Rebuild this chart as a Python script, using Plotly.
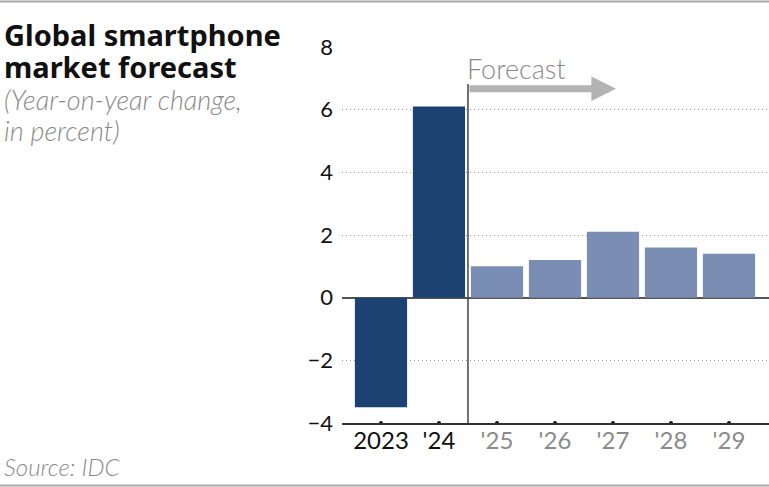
import plotly.graph_objects as go

# data
years = ["2023", "'24", "'25", "'26", "'27", "'28", "'29"]
change = [-3.5, 6.1, 1.0, 1.2, 2.1, 1.6, 1.4]
is_forecast = [False, False, True, True, True, True, True]

W, H = 769, 487
DARK = "#1b4271"
LIGHT = "#7a8db3"
GREY_TXT = "#8a8a8a"
FONT = "Lato"

xs = list(range(len(years)))
colors = [LIGHT if f else DARK for f in is_forecast]
ticktext = [
    f"<span style='color:{GREY_TXT}'>{y}</span>" if f else y
    for y, f in zip(years, is_forecast)
]

fig = go.Figure()
fig.add_trace(go.Bar(
    x=xs, y=change, marker=dict(color=colors, line=dict(width=0)),
    width=0.9, hoverinfo="skip", showlegend=False,
))
# little dots on the axis line under each year
fig.add_trace(go.Scatter(
    x=xs, y=[-4] * len(xs), mode="markers",
    marker=dict(color="#111", size=4), cliponaxis=False,
    hoverinfo="skip", showlegend=False,
))


def px_x(p):
    return p / W


def px_y(p):
    return 1 - p / H


fig.update_layout(
    width=W, height=H,
    margin=dict(l=0, r=0, t=0, b=0, pad=0, autoexpand=False),
    paper_bgcolor="white", plot_bgcolor="white",
    font=dict(family=FONT, color="#111"),
    showlegend=False,
    xaxis=dict(
        domain=[px_x(342), 1],
        range=[-0.672, 6.69],
        tickvals=xs, ticktext=ticktext,
        tickfont=dict(size=24, color="#111"),
        showgrid=False, zeroline=False, automargin=False,
        showline=True, linecolor="#333", linewidth=1.5,
        ticks="", ticklabelstandoff=-5,
    ),
    yaxis=dict(
        domain=[1 - 423 / H, 1 - 47 / H],
        range=[-4, 8],
        tickvals=[-4, -2, 0, 2, 4, 6, 8],
        tickfont=dict(size=22, color="#111"),
        showgrid=True, gridcolor="#999999", griddash="1px,3px", gridwidth=1,
        zeroline=True, zerolinecolor="#555", zerolinewidth=1.5,
        automargin=False, ticks="", ticklabelstandoff=8,
    ),
    bargap=0.1,
)

# forecast divider
fig.add_shape(type="line", xref="x", yref="y", x0=1.5, x1=1.5, y0=-4, y1=6.82,
              line=dict(color="#444", width=1.5))
# forecast arrow
fig.add_annotation(
    x=4.05, y=6.67, ax=1.5, ay=6.67, xref="x", yref="y", axref="x", ayref="y",
    text="", showarrow=True, arrowhead=2, arrowwidth=7, arrowsize=0.7,
    arrowcolor="#b3b3b3",
)
fig.add_annotation(
    x=1.45, y=7.3, xref="x", yref="y", text="Forecast", showarrow=False,
    xanchor="left", yanchor="middle",
    font=dict(size=27, color=GREY_TXT, weight=300),
)

# titles and source
lines = [
    ("Global smartphone", 34, 29, "#111", 700, "normal", "Noto Sans"),
    ("market forecast", 66, 29, "#111", 700, "normal", "Noto Sans"),
    ("(Year-on-year change,", 100, 27, GREY_TXT, 300, "italic", FONT),
    ("in percent)", 130, 27, GREY_TXT, 300, "italic", FONT),
    ("Source: IDC", 466, 24, GREY_TXT, 300, "italic", FONT),
]
for txt, y, size, col, wt, st, fam in lines:
    fig.add_annotation(
        x=px_x(2), y=px_y(y), xref="paper", yref="paper", text=txt,
        showarrow=False, xanchor="left", yanchor="middle",
        font=dict(family=fam, size=size, color=col, weight=wt, style=st),
    )

# top and bottom rules
for yy in (1.5, 485.5):
    fig.add_shape(type="line", xref="paper", yref="paper", x0=0, x1=1,
                  y0=px_y(yy), y1=px_y(yy), line=dict(color="#a8a8a8", width=2))

# drop the default page margin so the figure sits at the window's corner
fig.write_html("out.html", config={"displayModeBar": False},
               post_script="document.body.style.margin = '0';")
